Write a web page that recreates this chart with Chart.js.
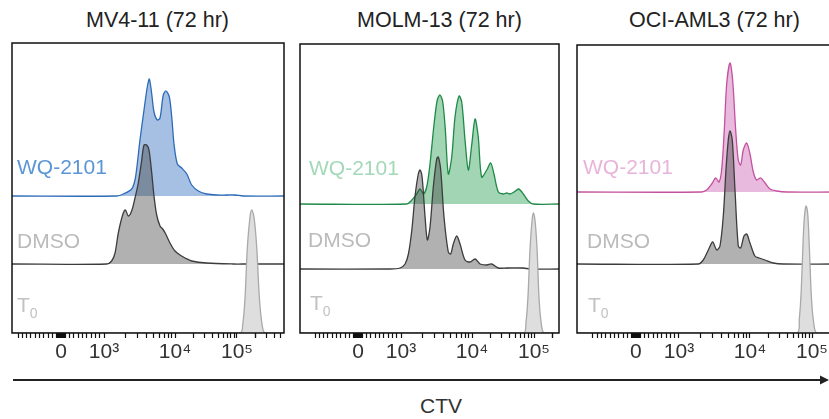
<!DOCTYPE html>
<html>
<head>
<meta charset="utf-8">
<title>CTV dilution</title>
<script src="https://cdn.jsdelivr.net/npm/chart.js@4.4.0/dist/chart.umd.min.js"></script>
<style>
html, body { margin: 0; padding: 0; background: #fff; width: 829px; height: 419px; overflow: hidden; }
body { position: relative; font-family: "Liberation Sans", Arial, sans-serif; }
canvas { position: absolute; }
.t { position: absolute; font-size: 21px; line-height: 21px; white-space: nowrap; }
.t sub { font-size: 14px; vertical-align: -6px; line-height: 0; }
.title { font-size: 21.5px; }
</style>
</head>
<body>
<div id="wrap"></div>
<svg style="position:absolute;left:0;top:372px" width="829" height="16">
  <line x1="13" y1="8" x2="825" y2="8" stroke="#222" stroke-width="2"/>
  <polygon points="829,8 820,3.5 820,12.5" fill="#222"/>
</svg>
<div class="t" style="left:420px;top:395px;color:#333">CTV</div>
<script>
// CTV intensity (x) and normalised counts (y)
var titles = ['MV4-11 (72 hr)', 'MOLM-13 (72 hr)', 'OCI-AML3 (72 hr)'];
var sampleNames = ['WQ-2101', 'DMSO', 'T0'];

var mv4WqX = [1510,1870,2450,2730,2940,3210,3660,4070,4350,4700,5060,5630,6150,6840,7470,8320,8990,9680,10900,12800,15500,18600,23800,32400,47100,68200,92900,126000];
var mv4WqY = [0,2,7,16,32,56,86,109,117,102,84,76,78,101,105,99,79,52,32,28,22,11,5,2,1,1,1,0];
var mv4DmsoX = [1090,1280,1430,1590,1830,2000,2200,2450,2730,3040,3400,3660,3990,4300,4700,5060,5520,6150,6710,7400,8500,10000,12800,14500,18600,32400,87100,143000];
var mv4DmsoY = [0,3,11,31,49,54,48,53,66,81,104,119,119,114,91,68,49,38,35,30,21,13,8,6,3,1,0,0];
var mv4T0X = [112000,124000,135000,147000,162000,173000,188000,208000,229000,253000,283000];
var mv4T0Y = [0,9,36,86,116,123,116,86,36,9,0];

var molmWqX = [1200,1420,1660,1850,2060,2300,2560,2920,3240,3540,3870,4210,4630,5180,5760,6560,7160,7970,8870,9900,11200,12600,14300,17300,20000,22600,26600,32000,36300,41000,47600,56600,67200,80900,97500];
var molmWqY = [0,4,10,15,10,17,40,80,104,109,102,74,30,47,87,108,102,64,34,59,85,67,27,34,41,30,12,10,11,10,12,15,10,3,0];
var molmDmsoX = [745,977,1140,1270,1420,1570,1750,1850,1980,2180,2350,2560,2850,3180,3350,3620,4030,4630,5010,5450,6090,6780,7970,9370,11200,13500,17300,20800,26600,36300,67200,86200];
var molmDmsoY = [0,1,5,15,39,72,95,99,92,52,29,42,82,110,112,99,52,17,15,25,33,25,9,7,10,5,4,5,1,1,1,0];
var molmT0X = [67200,74300,80000,86200,92800,97500,104000,112000,120000,130000,145000];
var molmT0Y = [0,11,37,84,112,120,112,84,37,11,0];

var ociWqX = [2090,2450,2890,3290,3660,3990,4350,4700,5230,5700,6290,6840,7400,8050,8990,10000,11300,12800,14900,17500,21000,27000,39100];
var ociWqY = [0,2,8,14,10,22,62,108,129,112,62,32,27,42,49,38,20,12,14,9,3,1,0];
var ociDmsoX = [1870,2200,2590,2980,3400,3780,4210,4590,4950,5230,5630,6150,6840,7400,8230,8990,10000,12000,14100,17500,23800,34400];
var ociDmsoY = [0,4,14,22,14,18,48,94,124,133,124,74,18,16,28,30,21,8,6,4,1,0];
var ociT0X = [56600,62400,67200,72400,76200,80000,85300,90400,97500,106000,119000];
var ociT0Y = [0,14,44,97,119,127,119,87,37,11,0];

// axis ranges and tick labels
var xMin = [-1140, -1350, -1370];
var xMax = [573000, 253000, 218000];
var majorTicks = [0, 1000, 10000, 100000];
var majorLabels = ['0', '10\u00b3', '10\u2074', '10\u2075'];

// layout
var boxL = [12, 300, 577], boxR = [284, 559, 833], boxT = [43, 44, 45], boxB = 333;
var titleL = [86, 357, 629];
var wqOffset = [137, 129, 141], dmsoOffset = [69, 64, 69];
var lineCol = ['#2d6bb8', '#1f8a48', '#c4519f'];
var fillCol = ['#a6c0e3', '#a1d5b4', '#e8badd'];
var nameCol = ['#5b96d6', '#a3d8b8', '#e8b4da'];

// biexponential-like display: linear around zero, log above 10^3
function biex(v) {
  if (v <= 1000) return v * 0.043;
  if (v <= 10000) return 43 + 71 * Math.log10(v / 1000);
  return 114 + 62 * Math.log10(v / 10000);
}
function biexInv(d) {
  if (d <= 43) return d / 0.043;
  if (d <= 114) return 1000 * Math.pow(10, (d - 43) / 71);
  return 10000 * Math.pow(10, (d - 114) / 62);
}

var allTicks = [];
for (var i = -1000; i < 0; i += 100) allTicks.push(i);
for (var i = -90; i <= 90; i += 10) allTicks.push(i);
for (var i = 100; i <= 900; i += 100) allTicks.push(i);
[1000, 10000, 100000].forEach(function(d) {
  for (var k = 1; k <= 9; k++) allTicks.push(d * k);
});
allTicks.push(200000);

class BiexScale extends Chart.LinearScale {
  buildTicks() {
    var me = this, t = [];
    allTicks.forEach(function(v) { if (v >= me.min && v <= me.max) t.push({ value: v }); });
    this.start = this.min; this.end = this.max;
    return t;
  }
  getPixelForValue(v) {
    var a = biex(this.min), b = biex(this.max);
    return this.getPixelForDecimal((biex(v) - a) / (b - a));
  }
  getValueForPixel(p) {
    var a = biex(this.min), b = biex(this.max);
    return biexInv(a + this.getDecimalForPixel(p) * (b - a));
  }
}
BiexScale.id = 'biex';
BiexScale.defaults = Chart.LinearScale.defaults;
Chart.register(BiexScale);

var boxPlugin = {
  id: 'box',
  afterDatasetsDraw: function(chart) {
    var a = chart.chartArea, ctx = chart.ctx;
    ctx.save();
    ctx.strokeStyle = '#111';
    ctx.lineWidth = 1.5;
    ctx.strokeRect(a.left, a.top, a.right - a.left, a.bottom - a.top);
    ctx.restore();
  }
};

function series(xs, ys, off, lo, hi) {
  var d = [{ x: lo, y: off }];
  for (var i = 0; i < xs.length; i++) d.push({ x: xs[i], y: ys[i] + off });
  d.push({ x: hi, y: off });
  return d;
}

var panelData = [
  [mv4WqX, mv4WqY, mv4DmsoX, mv4DmsoY, mv4T0X, mv4T0Y],
  [molmWqX, molmWqY, molmDmsoX, molmDmsoY, molmT0X, molmT0Y],
  [ociWqX, ociWqY, ociDmsoX, ociDmsoY, ociT0X, ociT0Y]
];

var wrap = document.getElementById('wrap');

function addText(html, left, top, color, cls) {
  var el = document.createElement('div');
  el.className = 't' + (cls ? ' ' + cls : '');
  el.innerHTML = html;
  el.style.left = left + 'px';
  el.style.top = top + 'px';
  el.style.color = color;
  document.body.appendChild(el);
}

panelData.forEach(function(p, n) {
  var h = boxB - boxT[n];
  var cv = document.createElement('canvas');
  cv.width = boxR[n] - boxL[n] + 4;
  cv.height = h + 2 + 40;
  cv.style.left = (boxL[n] - 2) + 'px';
  cv.style.top = (boxT[n] - 2) + 'px';
  wrap.appendChild(cv);

  var lo = xMin[n], hi = xMax[n];
  new Chart(cv, {
    type: 'line',
    data: {
      datasets: [
        {
          label: sampleNames[2], order: 0,
          data: series(p[4], p[5], 0, lo, hi),
          borderColor: '#a9a9a9', backgroundColor: '#dedede',
          fill: { value: 0 }
        },
        {
          label: sampleNames[1], order: 1,
          data: series(p[2], p[3], dmsoOffset[n], lo, hi),
          borderColor: '#3c3c3c', backgroundColor: 'rgba(60,60,60,0.4)',
          fill: { value: dmsoOffset[n] }
        },
        {
          label: sampleNames[0], order: 2,
          data: series(p[0], p[1], wqOffset[n], lo, hi),
          borderColor: lineCol[n], backgroundColor: fillCol[n],
          fill: { value: wqOffset[n] }
        }
      ]
    },
    options: {
      responsive: false,
      animation: false,
      devicePixelRatio: 1,
      events: [],
      layout: { padding: { left: 2, right: 2, top: 2, bottom: 0 } },
      elements: {
        point: { radius: 0 },
        line: { borderWidth: 1.3, tension: 0.3 }
      },
      plugins: { legend: { display: false }, tooltip: { enabled: false } },
      scales: {
        x: {
          type: 'biex', min: lo, max: hi,
          afterFit: function(s) { s.height = 40; },
          border: { display: false },
          grid: { display: true, drawOnChartArea: false, drawTicks: true, tickLength: 5, tickColor: '#111', tickWidth: 1.2 },
          ticks: {
            autoSkip: false, maxRotation: 0, padding: 2, color: '#333',
            font: { family: 'Liberation Sans', size: 21 },
            callback: function(v) {
              var k = majorTicks.indexOf(v);
              return k < 0 ? '' : majorLabels[k];
            }
          }
        },
        y: { display: false, min: 0, max: h }
      }
    },
    plugins: [boxPlugin]
  });

  addText(titles[n], titleL[n], 10, '#222', 'title');
});

// sample labels inside the panels
var nameL = [[17, 17, 17], [309, 308, 310], [583, 587, 588]];
var nameTop = [[156, 230, 294], [157, 229, 292], [156, 230, 294]];
for (var n = 0; n < 3; n++) {
  addText(sampleNames[0], nameL[n][0], nameTop[n][0], nameCol[n]);
  addText(sampleNames[1], nameL[n][1], nameTop[n][1], '#bbbbbb');
  addText('T<sub>0</sub>', nameL[n][2], nameTop[n][2], '#c2c2c2');
}
</script>
</body>
</html>
